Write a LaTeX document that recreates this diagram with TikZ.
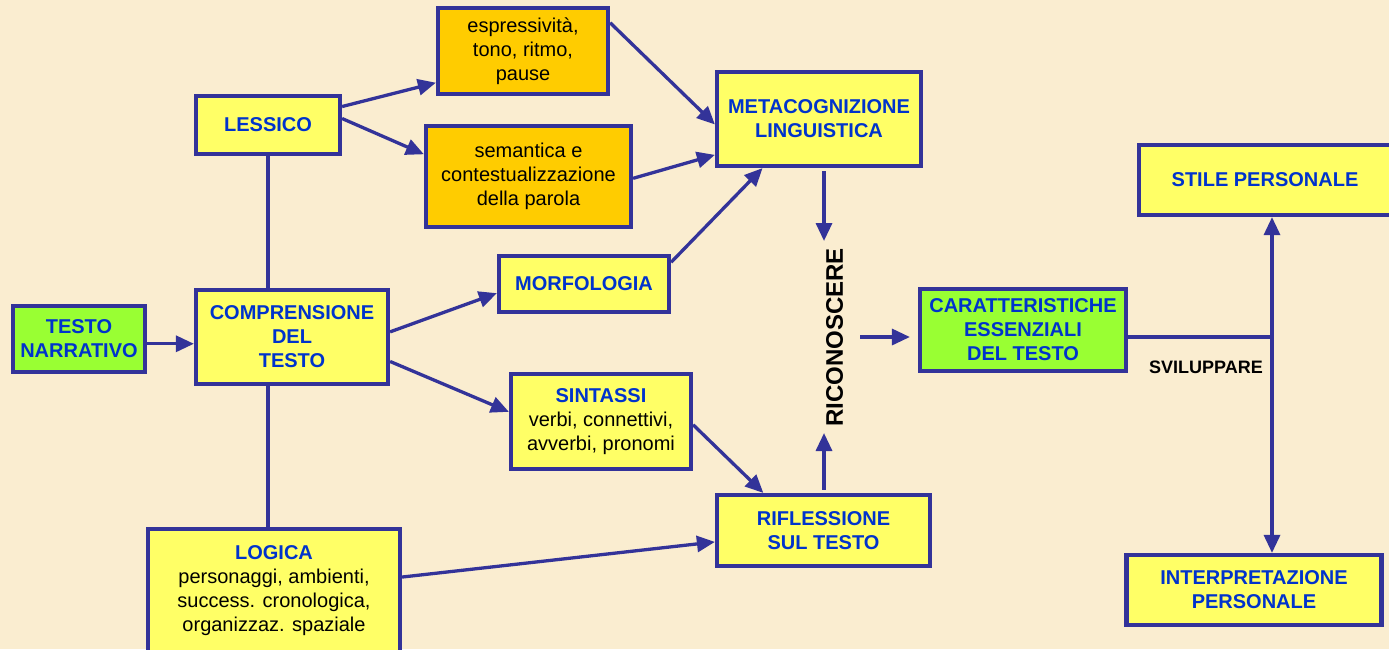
\documentclass[tikz,border=0pt]{standalone}
\usepackage{fontspec}
\setmainfont{Liberation Sans}
\usetikzlibrary{arrows.meta, positioning, calc}
\definecolor{bordblue}{RGB}{51,51,153}
\definecolor{textblue}{RGB}{0,51,204}
\definecolor{boxyellow}{RGB}{255,255,102}
\definecolor{boxorange}{RGB}{255,204,0}
\definecolor{boxgreen}{RGB}{153,255,51}
\definecolor{parchment}{RGB}{250,237,208}
\newcommand{\hd}[1]{{\color{textblue}\bfseries #1}}

\begin{document}
\begin{tikzpicture}[x=1pt, y=-1pt,
    box/.style={draw=bordblue, line width=4.2pt, fill=boxyellow, align=center, inner sep=0pt, font=\fontsize{20}{24}\selectfont},
    headbox/.style={box, text=textblue, font=\fontsize{20}{24}\selectfont\bfseries},
    notebox/.style={box, fill=boxorange},
    startbox/.style={headbox, fill=boxgreen},
    link/.style={draw=bordblue, line width=3.3pt},
    arr/.style={link, -{Triangle[length=18pt, width=16pt]}}]
    \path[fill=parchment, use as bounding box] (0,0) rectangle (1389,649);
    \clip (0,0) rectangle (1389,649);

    % left column
    \node[startbox, minimum width=132pt, minimum height=66pt] at (79,339) (narr) {TESTO\\NARRATIVO};
    \node[headbox, minimum width=192pt, minimum height=94pt] at (292,337) (compr) {COMPRENSIONE\\DEL\\TESTO};
    \node[headbox, minimum width=144pt, minimum height=58pt] at (268,125) (less) {LESSICO};
    \node[box, minimum width=252pt, minimum height=123pt] at (274,590.5) (logica) {\hd{LOGICA}\\personaggi, ambienti,\\success. cronologica,\\organizzaz. spaziale};

    % middle column
    \node[notebox, minimum width=170pt, minimum height=86pt] at (523,51) (espr) {espressività,\\tono, ritmo,\\pause};
    \node[notebox, minimum width=205pt, minimum height=101pt] at (528.5,176.5) (sem) {semantica e\\contestualizzazione\\della parola};
    \node[headbox, minimum width=170pt, minimum height=56pt] at (584,284) (morf) {MORFOLOGIA};
    \node[box, minimum width=180pt, minimum height=95pt] at (601,421.5) (sint) {\hd{SINTASSI}\\verbi, connettivi,\\avverbi, pronomi};
    \node[headbox, minimum width=204pt, minimum height=94pt] at (819,119) (meta) {METACOGNIZIONE\\LINGUISTICA};
    \node[headbox, minimum width=213pt, minimum height=71pt] at (823.5,530.5) (rifl) {RIFLESSIONE\\SUL TESTO};

    % right column
    \node[startbox, minimum width=206pt, minimum height=82pt] at (1023,330) (caratt) {CARATTERISTICHE\\ESSENZIALI\\DEL TESTO};
    \node[headbox, minimum width=252pt, minimum height=70pt] at (1265,180) (stile) {STILE PERSONALE};
    \node[headbox, minimum width=255pt, minimum height=70pt] at (1254,590) (interp) {INTERPRETAZIONE\\PERSONALE};

    % verbs
    \node[rotate=90, inner sep=0pt, font=\fontsize{24}{24}\selectfont\bfseries] at (834.6,337.5) (ricon) {RICONOSCERE};
    \node[inner sep=0pt, font=\fontsize{18}{18}\selectfont\bfseries] at (1206,367.5) (svil) {SVILUPPARE};
    \coordinate (rtop) at (824,241);
    \coordinate (rbot) at (824,433);
    \coordinate (rmid) at (860,337);
    \coordinate (split) at (1272,337);

    % connectors
    \draw[arr] (narr.-4) -- (narr.-4 -| compr.west);
    \draw[link] (less.south) -- (less.south |- compr.north);
    \draw[link] (compr.south -| less.south) -- (logica.north -| less.south);
    \draw[arr] (less.14) -- (espr.200);
    \draw[arr] (less.5) -- (sem.168);
    \draw[arr] (espr.18) -- (meta.183);
    \draw[arr] (sem.-1) -- (meta.199);
    \draw[arr] (morf.14) -- (meta.221);
    \draw[arr] (compr.3) -- (morf.186);
    \draw[arr] (compr.-14) -- (sint.174);
    \draw[arr] (sint.-2) -- (rifl.148);
    \draw[arr] (logica.6) -- (rifl.186);
    \draw[arr, shorten <=3pt] (meta.south -| rtop) -- (rtop);
    \draw[arr, shorten <=3pt] (rifl.north -| rbot) -- (rbot);
    \draw[arr, shorten >=8pt] (rmid) -- (rmid -| caratt.west);
    \draw[link] (caratt.east |- split) -- (split);
    \draw[arr] (split) -- (split |- stile.south);
    \draw[arr] (split) -- (split |- interp.north);
\end{tikzpicture}
\end{document}
